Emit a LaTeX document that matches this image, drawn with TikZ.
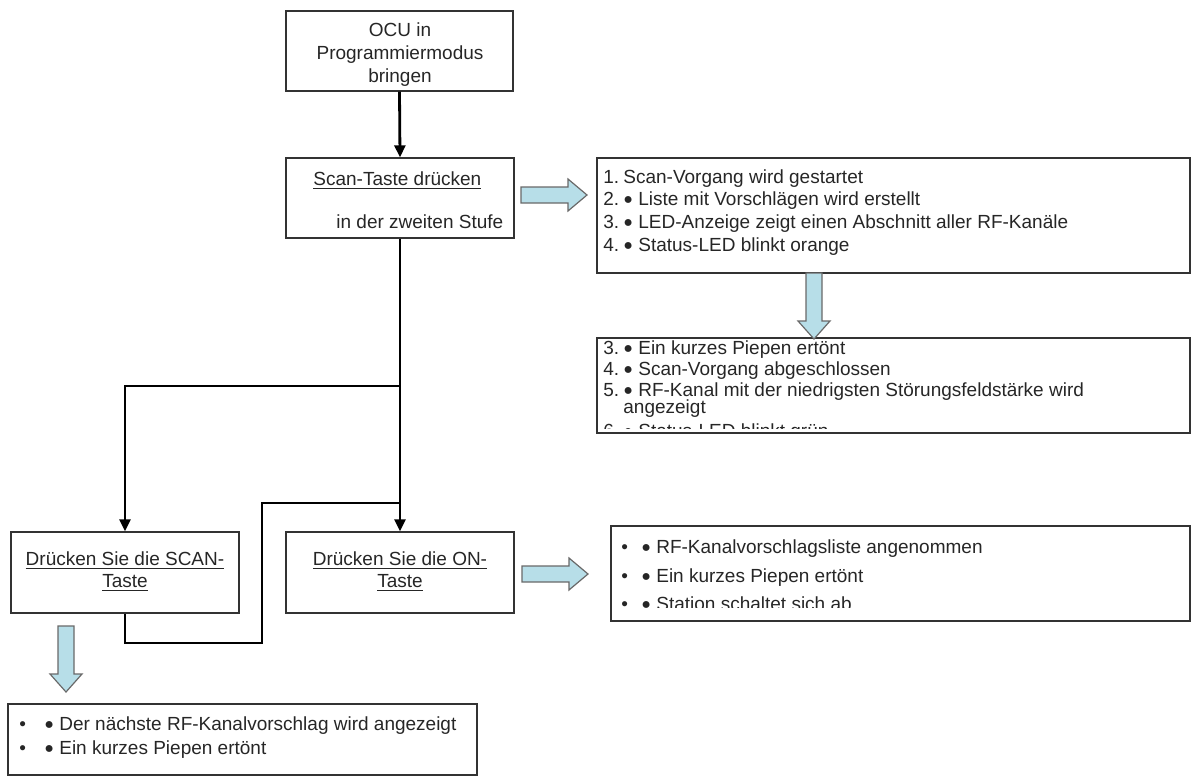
\documentclass[tikz,border=0pt]{standalone}
\usepackage{fontspec}
\setmainfont{Liberation Sans}
\usetikzlibrary{arrows.meta}

\definecolor{arrowblue}{RGB}{183,222,232}
\definecolor{arrowline}{RGB}{105,105,105}
\definecolor{textgray}{RGB}{38,38,38}

\tikzset{
  box/.style={draw=black!80, line width=0.7pt, inner sep=0pt},
  txt/.style={text=textgray, inner sep=0pt, anchor=base west, font=\fontsize{9.5}{11}\selectfont},
  ctxt/.style={txt, anchor=base},
  flow/.style={line width=1.4pt, -{Triangle[length=6pt,width=5.5pt]}},
  link/.style={line width=1.4pt},
  fatarrow/.style={draw=arrowline, line width=0.6pt, fill=arrowblue, line join=miter}
}

% number and bullet columns of the lists
\newcommand{\numcol}[1]{\makebox[10pt][l]{#1}}
\newcommand{\dotcol}[1]{\makebox[#1][l]{•}}
\newcommand{\bdot}{\raisebox{0.5pt}{\fontsize{8}{8}\selectfont ●}}

% blue block arrows
\newcommand{\fatright}[1]{\draw[fatarrow] (#1) ++(0,-8) -- ++(47,0) -- ++(0,-8) -- ++(19,16) -- ++(-19,16) -- ++(0,-8) -- ++(-47,0) -- cycle;}
\newcommand{\fatdown}[1]{\draw[fatarrow] (#1) ++(-8,0) -- ++(0,48) -- ++(-8,0) -- ++(16,18) -- ++(16,-18) -- ++(-8,0) -- ++(0,-48) -- cycle;}

\begin{document}
\begin{tikzpicture}[x=0.5pt, y=-0.5pt]
  \useasboundingbox (0,0) rectangle (1191,776);

  % left column
  \node[box, minimum width=113.5pt, minimum height=40pt] (ocu) at (399.5,51) {};
  \node[ctxt] (ocuA) at (400,37) {OCU in};
  \node[ctxt] (ocuB) at (400,60) {Programmiermodus};
  \node[ctxt] (ocuC) at (400,83) {bringen};

  \node[box, minimum width=114pt, minimum height=40pt] (scan) at (400,198) {};
  \node[txt] (scanA) at (313,185) {\underline{Scan-Taste drücken}};
  \node[txt] (scanB) at (336,228) {in der zweiten Stufe};

  \node[box, minimum width=114pt, minimum height=40.5pt] (scanbtn) at (125,572.5) {};
  \node[ctxt] (scanbtnA) at (125,565) {\underline{Drücken Sie die SCAN-}};
  \node[ctxt] (scanbtnB) at (125,587) {\underline{Taste}};

  \node[box, minimum width=114pt, minimum height=40.5pt] (onbtn) at (400,572.5) {};
  \node[ctxt] (onbtnA) at (400,565) {\underline{Drücken Sie die ON-}};
  \node[ctxt] (onbtnB) at (400,587) {\underline{Taste}};

  \node[box, minimum width=234.5pt, minimum height=35.5pt] (next) at (242.5,739.5) {};
  \node[txt] (nextA) at (19,730) {\dotcol{12.5pt}\bdot{} Der nächste RF-Kanalvorschlag wird angezeigt};
  \node[txt] (nextB) at (19,754) {\dotcol{12.5pt}\bdot{} Ein kurzes Piepen ertönt};

  % result boxes
  \node[box, minimum width=296.5pt, minimum height=57.5pt] (res1) at (893.5,215.5) {};
  \node[txt] (res1A) at (603,183) {\numcol{1.}Scan-Vorgang wird gestartet};
  \node[txt] (res1B) at (603,205) {\numcol{2.}\bdot{} Liste mit Vorschlägen wird erstellt};
  \node[txt] (res1C) at (603,228) {\numcol{3.}\bdot{} LED-Anzeige zeigt einen Abschnitt aller RF-Kanäle};
  \node[txt] (res1D) at (603,251) {\numcol{4.}\bdot{} Status-LED blinkt orange};

  \node[box, minimum width=296.5pt, minimum height=47.5pt] (res2) at (893.5,385.5) {};
  \begin{scope}
    \clip ([yshift=2.5pt]res2.south west) rectangle (res2.north east);
    \node[txt] (res2A) at (603,354) {\numcol{3.}\bdot{} Ein kurzes Piepen ertönt};
    \node[txt] (res2B) at (603,375) {\numcol{4.}\bdot{} Scan-Vorgang abgeschlossen};
    \node[txt] (res2C) at (603,396) {\numcol{5.}\bdot{} RF-Kanal mit der niedrigsten Störungsfeldstärke wird};
    \node[txt] (res2D) at (623,413) {angezeigt};
    \node[txt] (res2E) at (603,437) {\numcol{6.}\bdot{} Status-LED blinkt grün};
  \end{scope}

  \node[box, minimum width=289.5pt, minimum height=47.5pt] (res3) at (900.5,573.5) {};
  \begin{scope}
    \clip ([yshift=7pt]res3.south west) rectangle (res3.north east);
    \node[txt] (res3A) at (621,553) {\dotcol{10pt}\bdot{} RF-Kanalvorschlagsliste angenommen};
    \node[txt] (res3B) at (621,582) {\dotcol{10pt}\bdot{} Ein kurzes Piepen ertönt};
    \node[txt] (res3C) at (621,610) {\dotcol{10pt}\bdot{} Station schaltet sich ab};
  \end{scope}

  % connectors
  \coordinate (split) at (400,386);
  \coordinate (loop) at (262,643);
  \coordinate (merge) at (400,503);
  \draw[flow] (ocu.south) -- (scan.north);
  \draw[flow] (scan.south) -- (onbtn.north);
  \draw[flow] (split) -| (scanbtn.north);
  \draw[link] (scanbtn.south) |- (loop) |- (merge);

  % block arrows
  \coordinate (go1) at (521,195);
  \coordinate (go2) at (522,574);
  \coordinate (go3) at (814,273);
  \coordinate (go4) at (66,626);
  \fatright{go1}
  \fatright{go2}
  \fatdown{go3}
  \fatdown{go4}
\end{tikzpicture}
\end{document}
